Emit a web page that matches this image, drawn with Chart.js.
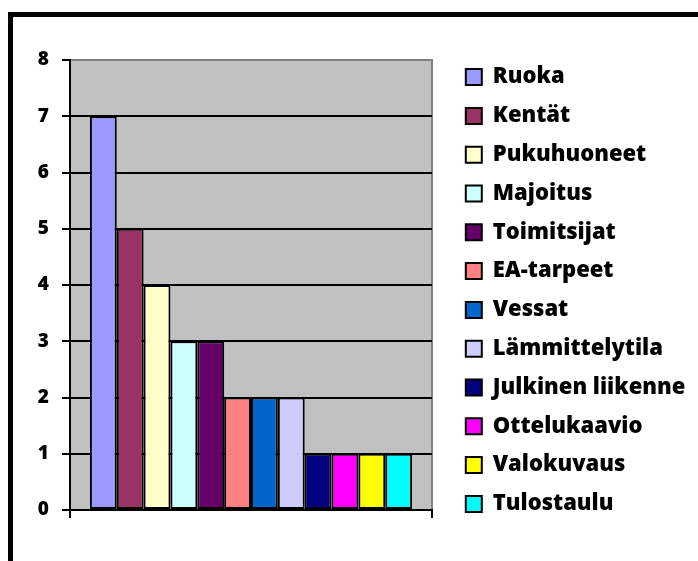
<!DOCTYPE html>
<html>
<head>
<meta charset="utf-8">
<script src="https://cdn.jsdelivr.net/npm/chart.js@4"></script>
<style>
  html, body { margin: 0; padding: 0; background: #fff; overflow: hidden; }
  #frame { position: absolute; left: 8px; top: 12px; width: 800px; height: 700px; border: 5px solid #000; }
  #wrap { position: absolute; left: 0; top: 0; width: 698px; height: 561px; }
</style>
</head>
<body>
<div id="frame"></div>
<div id="wrap"><canvas id="chart" width="698" height="561"></canvas></div>
<script>
const categories = [""];
const seriesNames = ["Ruoka", "Kentät", "Pukuhuoneet", "Majoitus", "Toimitsijat", "EA-tarpeet",
  "Vessat", "Lämmittelytila", "Julkinen liikenne", "Ottelukaavio", "Valokuvaus", "Tulostaulu"];
const seriesValues = [7, 5, 4, 3, 3, 2, 2, 2, 1, 1, 1, 1];
const seriesColors = ["#9999FF", "#993366", "#FFFFCC", "#CCFFFF", "#660066", "#FF8080",
  "#0066CC", "#CCCCFF", "#000080", "#FF00FF", "#FFFF00", "#00FFFF"];
const yTicks = [0, 1, 2, 3, 4, 5, 6, 7, 8];

const FONT = "'Open Sans', sans-serif";
const LEGEND_WIDTH = 249;

// grey plot area with a darker edge, like the old office charts
const plotBackground = {
  id: "plotBackground",
  beforeDraw(chart) {
    const { ctx, chartArea: a } = chart;
    ctx.save();
    ctx.fillStyle = "#C0C0C0";
    ctx.fillRect(a.left, a.top, a.right - a.left, a.bottom - a.top);
    ctx.strokeStyle = "#808080";
    ctx.lineWidth = 2;
    ctx.beginPath();
    ctx.moveTo(a.left, a.top);
    ctx.lineTo(a.right, a.top);
    ctx.lineTo(a.right, a.bottom);
    ctx.stroke();
    ctx.restore();
  }
};

// pin the legend box width so the plot keeps its place
const fixedLegend = {
  id: "fixedLegend",
  beforeLayout(chart) {
    const lg = chart.legend;
    if (!lg || lg._fixed) return;
    const fit = lg.fit.bind(lg);
    lg.fit = function () { fit(); this.width = LEGEND_WIDTH; };
    lg._fixed = true;
  }
};

const datasets = seriesNames.map((name, i) => ({
  label: name,
  data: [seriesValues[i]],
  backgroundColor: seriesColors[i],
  borderColor: "#000",
  borderWidth: 2,
  borderSkipped: false,
  barPercentage: 1,
  categoryPercentage: 0.89
}));

new Chart(document.getElementById("chart"), {
  type: "bar",
  data: { labels: categories, datasets },
  options: {
    responsive: false,
    animation: false,
    layout: { padding: { top: 20, bottom: 0, left: 0, right: 0 } },
    plugins: {
      tooltip: { enabled: false },
      legend: {
        position: "right",
        labels: {
          color: "#000",
          font: { family: FONT, size: 22, weight: 800 },
          boxWidth: 16,
          boxHeight: 16,
          padding: 16.8
        }
      }
    },
    scales: {
      x: {
        grid: { drawOnChartArea: false, color: "#000", lineWidth: 2, tickLength: 8 },
        border: { color: "#000", width: 2 },
        ticks: { display: false },
        afterFit(s) { s.height = 51; }
      },
      xTop: {
        axis: "x",
        type: "category",
        position: "top",
        grid: { display: false },
        border: { display: false },
        ticks: { display: false },
        afterFit(s) { s.height = 40; }
      },
      y: {
        min: 0,
        max: 8,
        afterBuildTicks(s) { s.ticks = yTicks.map(v => ({ value: v })); },
        grid: {
          color: c => (c.tick && c.tick.value === 8 ? "#808080" : "#000"),
          tickColor: "#000",
          lineWidth: 2,
          tickLength: 8
        },
        border: { color: "#000", width: 2 },
        ticks: {
          color: "#000",
          padding: 13,
          font: { family: FONT, size: 19, weight: 800 }
        },
        afterFit(s) { s.width = 70; }
      },
      yGap: {
        axis: "y",
        type: "linear",
        position: "right",
        grid: { display: false },
        border: { display: false },
        ticks: { display: false },
        afterFit(s) { s.width = 17; }
      }
    }
  },
  plugins: [plotBackground, fixedLegend]
});
</script>
</body>
</html>
